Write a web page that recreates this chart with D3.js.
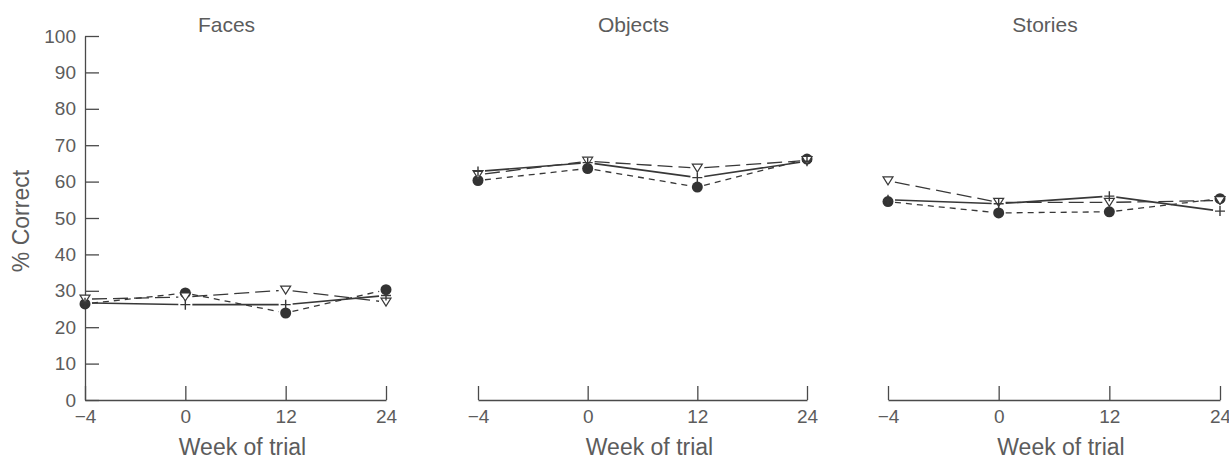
<!DOCTYPE html>
<html>
<head>
<meta charset="utf-8">
<script src="https://cdn.jsdelivr.net/npm/d3@7"></script>
<style>
  body { margin: 0; background: #fff; }
  text { font-family: "Liberation Sans", Arial, sans-serif; fill: #5c5c5c; }
</style>
</head>
<body>
<svg id="chart" width="1229" height="459"></svg>
<script>
// Tick labels on the x axis (equally spaced weeks)
var weeks = ["\u22124", "0", "12", "24"];
var yTicks = [0, 10, 20, 30, 40, 50, 60, 70, 80, 90, 100];
var panelNames = ["Faces", "Objects", "Stories"];

// % correct, one array per panel and group
var facesCircle = [26.4, 29.4, 23.9, 30.3];
var facesPlus = [26.7, 26.2, 26.2, 28.7];
var facesTriangle = [27.7, 28.3, 30.2, 26.9];

var objectsCircle = [60.3, 63.6, 58.5, 66.2];
var objectsPlus = [62.8, 65.2, 61.1, 65.6];
var objectsTriangle = [61.9, 65.6, 63.7, 65.8];

var storiesCircle = [54.5, 51.4, 51.7, 55.3];
var storiesPlus = [55.0, 53.9, 56.0, 51.9];
var storiesTriangle = [60.2, 54.3, 54.3, 54.8];

var panelData = [
  {circle: facesCircle, plus: facesPlus, triangle: facesTriangle},
  {circle: objectsCircle, plus: objectsPlus, triangle: objectsTriangle},
  {circle: storiesCircle, plus: storiesPlus, triangle: storiesTriangle}
];

// layout of each panel (x extent of the axis)
var panelX = [[85, 386], [478, 807], [888, 1220]];
var plotTop = 36, plotBottom = 400;

var lineColor = "#383838";
var axisColor = "#4a4a4a";

// line styles per series
var seriesStyle = {
  plus: {dash: null, width: 1.6},
  triangle: {dash: "15,6", width: 1.3},
  circle: {dash: "6,5", width: 1.3}
};

var svg = d3.select("#chart");

var y = d3.scaleLinear().domain([0, 100]).range([plotBottom, plotTop]);

panelNames.forEach(function(name, p) {
  var x = d3.scalePoint().domain(weeks).range(panelX[p]);
  var g = svg.append("g");

  // x axis, ticks pointing up
  var xaxis = d3.axisBottom(x).tickSizeInner(-14).tickSizeOuter(0).tickPadding(10);
  var gx = g.append("g")
    .attr("transform", "translate(0," + plotBottom + ")")
    .call(xaxis);
  gx.selectAll("path, line").attr("stroke", axisColor).attr("stroke-width", 1.3);
  gx.attr("font-size", 19).attr("font-family", "Liberation Sans, Arial, sans-serif");
  gx.selectAll("text").attr("fill", "#5c5c5c");

  // only the first panel has a y axis
  if (p === 0) {
    var yaxis = d3.axisLeft(y).tickValues(yTicks).tickSizeInner(-14).tickSizeOuter(0).tickPadding(9);
    var gy = g.append("g")
      .attr("transform", "translate(" + panelX[p][0] + ",0)")
      .call(yaxis);
    gy.selectAll("path, line").attr("stroke", axisColor).attr("stroke-width", 1.3);
    gy.attr("font-size", 19).attr("font-family", "Liberation Sans, Arial, sans-serif");
    gy.selectAll("text").attr("fill", "#5c5c5c");

    g.append("text")
      .attr("transform", "translate(29,221) rotate(-90)")
      .attr("text-anchor", "middle")
      .attr("font-size", 23)
      .text("% Correct");
  }

  var mid = (panelX[p][0] + panelX[p][1]) / 2;

  // panel title
  g.append("text")
    .attr("x", mid - 9)
    .attr("y", 32)
    .attr("text-anchor", "middle")
    .attr("font-size", 21)
    .text(name);

  // x axis title
  g.append("text")
    .attr("x", mid + 7)
    .attr("y", 455)
    .attr("text-anchor", "middle")
    .attr("font-size", 23)
    .text("Week of trial");

  // lines: one segment per pair of weeks, stopped short of the markers
  var gap = 7;
  ["triangle", "circle", "plus"].forEach(function(key) {
    var vals = panelData[p][key];
    var pts = vals.map(function(v, i) { return [x(weeks[i]), y(v)]; });
    for (var i = 0; i < pts.length - 1; i++) {
      var a = pts[i], b = pts[i + 1];
      var dx = b[0] - a[0], dy = b[1] - a[1];
      var len = Math.sqrt(dx * dx + dy * dy);
      var ux = dx / len, uy = dy / len;
      g.append("line")
        .attr("x1", a[0] + ux * gap).attr("y1", a[1] + uy * gap)
        .attr("x2", b[0] - ux * gap).attr("y2", b[1] - uy * gap)
        .attr("stroke", lineColor)
        .attr("stroke-width", seriesStyle[key].width)
        .attr("stroke-dasharray", seriesStyle[key].dash);
    }
  });

  // markers
  g.selectAll(".circle")
    .data(panelData[p].circle)
    .enter().append("circle")
    .attr("cx", function(d, i) { return x(weeks[i]); })
    .attr("cy", function(d) { return y(d); })
    .attr("r", 5.5)
    .attr("fill", "#333");

  g.selectAll(".tri")
    .data(panelData[p].triangle)
    .enter().append("path")
    .attr("transform", function(d, i) { return "translate(" + x(weeks[i]) + "," + y(d) + ")"; })
    .attr("d", "M-5,-4L5,-4L0,4Z")
    .attr("fill", "#fff")
    .attr("stroke", lineColor)
    .attr("stroke-width", 1.2);

  g.selectAll(".plus")
    .data(panelData[p].plus)
    .enter().append("path")
    .attr("transform", function(d, i) { return "translate(" + x(weeks[i]) + "," + y(d) + ")"; })
    .attr("d", "M-5,0H5M0,-5V5")
    .attr("fill", "none")
    .attr("stroke", lineColor)
    .attr("stroke-width", 1.4);
});
</script>
</body>
</html>
